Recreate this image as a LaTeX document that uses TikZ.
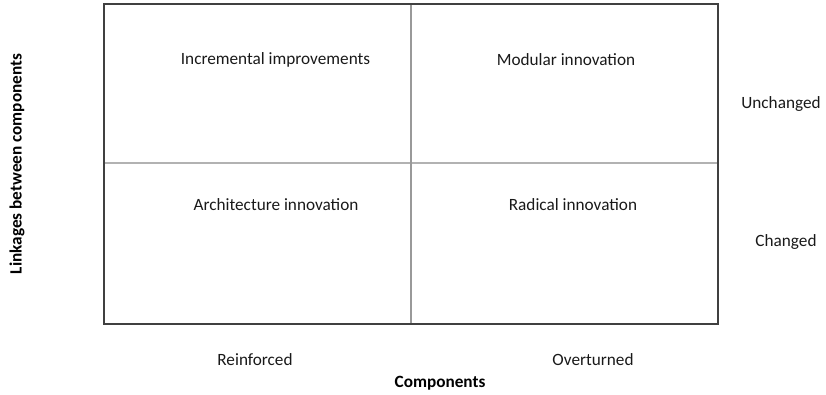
\documentclass[tikz,border=0pt]{standalone}
\usepackage{fontspec}
\setmainfont{Carlito}
\begin{document}
\begin{tikzpicture}[x=0.02cm,y=-0.02cm,inner sep=0pt,outer sep=0pt,
  lbl/.style={font=\fontsize{9.8}{11}\selectfont,text=black!90},
  axis/.style={font=\bfseries\fontsize{9.8}{11}\selectfont}]
\useasboundingbox (0,0) rectangle (826,395);
% quadrant grid
\draw[gray!60,line width=0.6pt] (104,163) coordinate(ml) -- (718,163) coordinate(mr);
\draw[gray!80,line width=0.7pt] (411,4) coordinate(mt) -- (411,324) coordinate(mb);
\draw[black!75,line width=0.8pt] (104,4) coordinate(tl) rectangle (718,324) coordinate(br);
% quadrant labels
\node[lbl] (inc) at (275.5,60) {Incremental improvements};
\node[lbl] (mod) at (566,60) {Modular innovation};
\node[lbl] (arc) at (276,205) {Architecture innovation};
\node[lbl] (rad) at (573,205) {Radical innovation};
% row labels
\node[lbl] (unch) at (781,104) {Unchanged};
\node[lbl] (chg) at (786,242) {Changed};
% column labels
\node[lbl] (reinf) at (255,360) {Reinforced};
\node[lbl] (over) at (593,360) {Overturned};
% axis titles
\node[axis] (comp) at (440,383) {Components};
\node[axis,rotate=90] (link) at (17,164) {Linkages between components};
\end{tikzpicture}
\end{document}
